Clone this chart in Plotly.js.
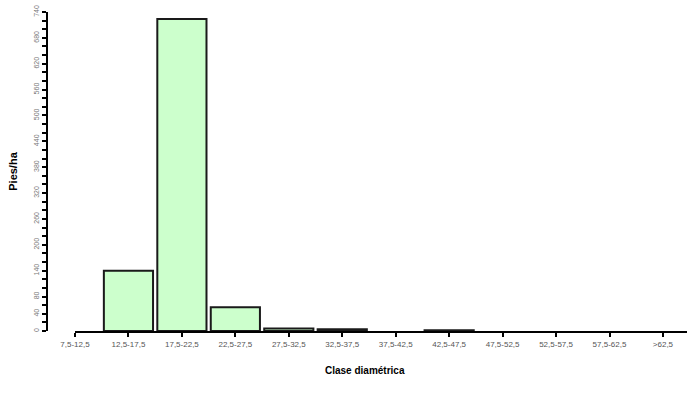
<!DOCTYPE html>
<html>
<head>
<meta charset="utf-8">
<script src="https://cdn.plot.ly/plotly-3.0.1.min.js"></script>
<style>html,body{margin:0;padding:0;background:#fff;}#chart{width:687px;height:405px;}</style>
</head>
<body>
<div id="chart"></div>
<script>
var categories = ["7,5-12,5","12,5-17,5","17,5-22,5","22,5-27,5","27,5-32,5","32,5-37,5","37,5-42,5","42,5-47,5","47,5-52,5","52,5-57,5","57,5-62,5",">62,5"];
var piesHa = [0, 140, 724, 55, 6, 4, 0, 2, 0, 0, 0, 0];
var yTickVals = [0, 40, 80, 140, 200, 260, 320, 380, 440, 500, 560, 620, 680, 740];
var yTickText = ["0","40","80","140","200","260","320","380","440","500","560","620","680","740"];

var trace = {
  type: "bar",
  x: categories.map(function(c, i){ return i; }),
  y: piesHa,
  marker: {
    color: "#ccffcc",
    line: { color: "#1a1a1a", width: piesHa.map(function(v){ return v > 0 ? 2 : 0; }) }
  },
  hoverinfo: "none"
};

var layout = {
  width: 687, height: 405,
  margin: { l: 47, r: 0, t: 12, b: 74 },
  paper_bgcolor: "#fff", plot_bgcolor: "#fff",
  showlegend: false,
  bargap: 0.08,
  font: { family: "Liberation Sans, Arial, sans-serif", color: "#555" },
  xaxis: {
    domain: [28/640, 1],
    range: [0, 11.45],
    tickmode: "array",
    tickvals: categories.map(function(c, i){ return i; }),
    ticktext: categories,
    tickangle: 0,
    ticks: "outside", ticklen: 4, tickwidth: 2, tickcolor: "#000",
    showline: true, linecolor: "#000", linewidth: 2,
    showgrid: false, zeroline: false,
    tickfont: { size: 8, color: "#555" }
  },
  yaxis: {
    anchor: "free", position: 0,
    range: [0, 740],
    tickmode: "array",
    tickvals: yTickVals,
    ticktext: yTickText,
    tickangle: -90,
    ticks: "outside", ticklen: 4, tickwidth: 2, tickcolor: "#000",
    minor: { dtick: 20, ticks: "outside", ticklen: 4, tickwidth: 2, tickcolor: "#000" },
    showline: true, linecolor: "#000", linewidth: 2,
    showgrid: false, zeroline: false,
    tickfont: { size: 7, color: "#777" },
    title: { text: "Pies/ha", font: { size: 11, color: "#000", weight: "bold" }, standoff: 12 }
  },
  annotations: [{
    text: "Clase diamétrica", xref: "paper", yref: "paper",
    x: (365-47)/640, y: -39/319, xanchor: "center", yanchor: "middle",
    showarrow: false, font: { size: 10, color: "#000", weight: "bold" }
  }]
};

Plotly.newPlot("chart", [trace], layout, { staticPlot: true, displayModeBar: false });
</script>
</body>
</html>
